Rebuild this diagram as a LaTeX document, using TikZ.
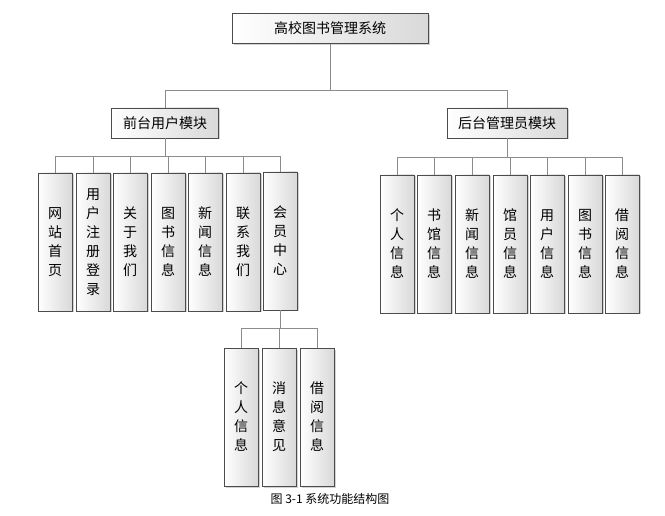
\documentclass[tikz,border=0pt]{standalone}
\usepackage{fontspec}
\newfontfamily\cjk{Noto Sans CJK SC}
\usetikzlibrary{shadows}

\tikzset{
  box/.style={draw=black!70, left color=white, right color=black!15,
    drop shadow={shadow xshift=1.5pt, shadow yshift=-1.5pt, fill=black!35},
    font=\cjk\fontsize{14}{19}\selectfont, align=center, inner sep=2pt},
  headbox/.style={box, minimum height=30pt},
  leafbox/.style={box, minimum width=34pt, minimum height=138pt, text width=30pt},
  link/.style={draw=black!45, line width=0.8pt}
}

\begin{document}
\begin{tikzpicture}[x=1pt, y=-1pt]
    \useasboundingbox (0,0) rectangle (665,516);

    % draw top levels
    \node[headbox, minimum width=196pt] (sys) at (330,28.5) {高校图书管理系统};
    \node[headbox, minimum width=107pt] (front) at (165,123) {前台用户模块};
    \node[headbox, minimum width=120pt] (back) at (507,123) {后台管理员模块};

    % draw front leaves
    \node[leafbox] (f1) at (55,242) {网\\站\\首\\页};
    \node[leafbox] (f2) at (93,242) {用\\户\\注\\册\\登\\录};
    \node[leafbox] (f3) at (130,242) {关\\于\\我\\们};
    \node[leafbox] (f4) at (168,242) {图\\书\\信\\息};
    \node[leafbox] (f5) at (205,242) {新\\闻\\信\\息};
    \node[leafbox] (f6) at (243,242) {联\\系\\我\\们};
    \node[leafbox] (f7) at (280,241) {会\\员\\中\\心};

    % draw back leaves
    \node[leafbox] (b1) at (397,244) {个\\人\\信\\息};
    \node[leafbox] (b2) at (434,244) {书\\馆\\信\\息};
    \node[leafbox] (b3) at (472,244) {新\\闻\\信\\息};
    \node[leafbox] (b4) at (510,244) {馆\\员\\信\\息};
    \node[leafbox] (b5) at (547,244) {用\\户\\信\\息};
    \node[leafbox] (b6) at (585,244) {图\\书\\信\\息};
    \node[leafbox] (b7) at (622,244) {借\\阅\\信\\息};

    % draw member leaves
    \node[leafbox] (m1) at (241,417) {个\\人\\信\\息};
    \node[leafbox] (m2) at (279,417) {消\\息\\意\\见};
    \node[leafbox] (m3) at (317,417) {借\\阅\\信\\息};

    % draw buses
    \coordinate (busTop) at (330,90);
    \coordinate (busL) at (165,156);
    \coordinate (busR) at (507,157);
    \coordinate (busM) at (280,328);

    \draw[link] (sys.south) -- (busTop) -| (front.north);
    \draw[link] (busTop) -| (back.north);
    \draw[link] (front.south) -- (busL);
    \foreach \n in {f1,f2,f3,f4,f5,f6,f7}
      \draw[link] (busL) -| (\n.north);
    \draw[link] (back.south) -- (busR);
    \foreach \n in {b1,b2,b3,b4,b5,b6,b7}
      \draw[link] (busR) -| (\n.north);
    \draw[link] (f7.south) -- (busM);
    \foreach \n in {m1,m2,m3}
      \draw[link] (busM) -| (\n.north);

    % draw caption
    \node[font=\cjk\fontsize{12}{14}\selectfont] (cap) at (330,499) {图 3-1 系统功能结构图};
\end{tikzpicture}
\end{document}
